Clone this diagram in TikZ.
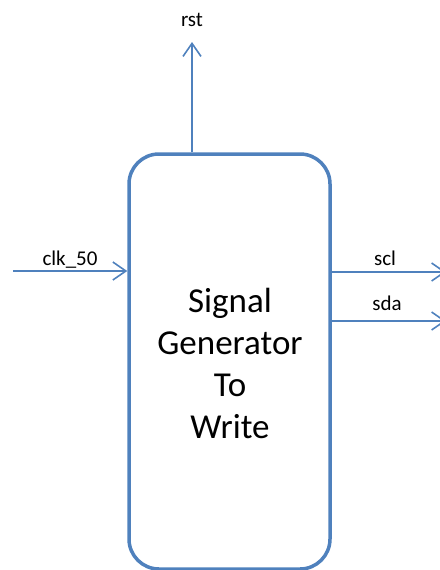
\documentclass[tikz,border=0pt]{standalone}
\usepackage{fontspec}
\setmainfont{Carlito}
\usetikzlibrary{arrows.meta}
\definecolor{linkblue}{RGB}{79,129,189}
\tikzset{
  sig/.style={draw=linkblue, line width=1.6pt,
    -{Straight Barb[length=13pt,width=18pt,line width=1.6pt]}},
  lbl/.style={font=\fontsize{21}{25}\selectfont, inner sep=0pt, anchor=base},
  block/.style={draw=linkblue, line width=3.5pt, rounded corners=30pt,
    minimum width=201pt, minimum height=415pt, inner sep=0pt}
}
\begin{document}
\begin{tikzpicture}[x=1pt,y=-1pt]
\useasboundingbox (0,0) rectangle (439,570);
% the generator block
\node[block] (box) at (229.5,361.5) {};
% base anchor sits on the last line's baseline
\node[align=center, inner sep=0pt, anchor=base,
  font=\fontsize{35}{42}\selectfont] (title) at (230,438)
  {Signal\\Generator\\To\\Write};
% port end points
\coordinate (rstend) at (192,42);
\coordinate (clkin) at (13,271);
\coordinate (sclout) at (446,272);
\coordinate (sdaout) at (446,321);
% signals
\draw[sig] (box.north -| rstend) -- (rstend);
\draw[sig] (clkin) -- (clkin -| box.west);
\draw[sig] (box.east |- sclout) -- (sclout);
\draw[sig] (box.east |- sdaout) -- (sdaout);
% port names
\node[lbl] (rstlbl) at (192,26) {rst};
\node[lbl] (clklbl) at (70,265) {clk\_50};
\node[lbl] (scllbl) at (385,265) {scl};
\node[lbl] (sdalbl) at (387,310) {sda};
\end{tikzpicture}
\end{document}
